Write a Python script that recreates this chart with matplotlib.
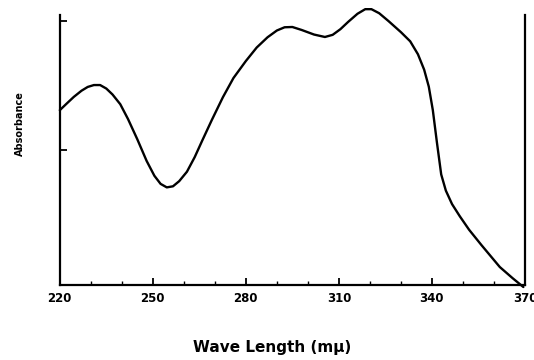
import numpy as np
import matplotlib
matplotlib.use('Agg')
import matplotlib.pyplot as plt
from matplotlib.ticker import MultipleLocator, NullFormatter

# Спектр поглощения (длина волны, нм; поглощение в условных единицах)
wavelength = [220, 222, 224.5, 227, 229, 231, 233, 235, 237, 239.5, 242, 245,
              248, 250.5, 252.5, 254.5, 256.5, 258.5, 261, 263.5, 266, 269,
              272.6, 276, 280, 283.5, 287, 290, 292.5, 295, 298, 302, 305.5,
              308, 310.5, 313, 316, 318.5, 320.5, 323, 326, 330, 333, 335.5,
              337.5, 339, 340.3, 341.6, 343, 344.5, 346.5, 349, 352, 356,
              361.9, 366, 369.5]
absorbance = [0.648, 0.670, 0.697, 0.720, 0.734, 0.741, 0.741, 0.728, 0.706,
              0.670, 0.615, 0.540, 0.460, 0.405, 0.375, 0.362, 0.366, 0.385,
              0.420, 0.474, 0.537, 0.611, 0.696, 0.767, 0.830, 0.880, 0.918,
              0.943, 0.955, 0.956, 0.945, 0.928, 0.919, 0.927, 0.948, 0.975,
              1.005, 1.022, 1.022, 1.007, 0.978, 0.937, 0.903, 0.855, 0.798,
              0.735, 0.648, 0.530, 0.410, 0.350, 0.300, 0.255, 0.205, 0.148,
              0.067, 0.026, -0.007]
x_ticks = [220, 250, 280, 310, 340, 370]

fig = plt.figure(figsize=(5.34, 3.6), dpi=100)
ax = fig.add_axes([0.112, 0.208, 0.871, 0.75])

ax.plot(wavelength, absorbance, color='black', lw=1.7, clip_on=False,
        solid_capstyle='round', solid_joinstyle='round')

ax.set_xlim(220, 370)
ax.set_ylim(0, 1)

for side in ['left', 'right', 'bottom']:
    ax.spines[side].set_linewidth(1.6)
ax.spines['top'].set_visible(False)

ax.set_xticks(x_ticks)
ax.xaxis.set_minor_locator(MultipleLocator(10))
ax.tick_params(axis='x', which='major', direction='in', length=5, width=1.3,
               pad=5, labelsize=8.5)
ax.tick_params(axis='x', which='minor', direction='in', length=3, width=1.0)
ax.set_yticks([0.5, 0.98])
ax.yaxis.set_major_formatter(NullFormatter())
ax.tick_params(axis='y', direction='in', length=5, width=1.3)
for lbl in ax.get_xticklabels():
    lbl.set_fontweight('bold')

ax.set_xlabel('Wave Length (m\u03bc)', fontsize=11, fontweight='bold')
ax.xaxis.set_label_coords(0.456, -0.205)
ax.set_ylabel('Absorbance', fontsize=7, fontweight='bold')
ax.yaxis.set_label_coords(-0.074, 0.6)

fig.savefig('out.png', dpi=100)
